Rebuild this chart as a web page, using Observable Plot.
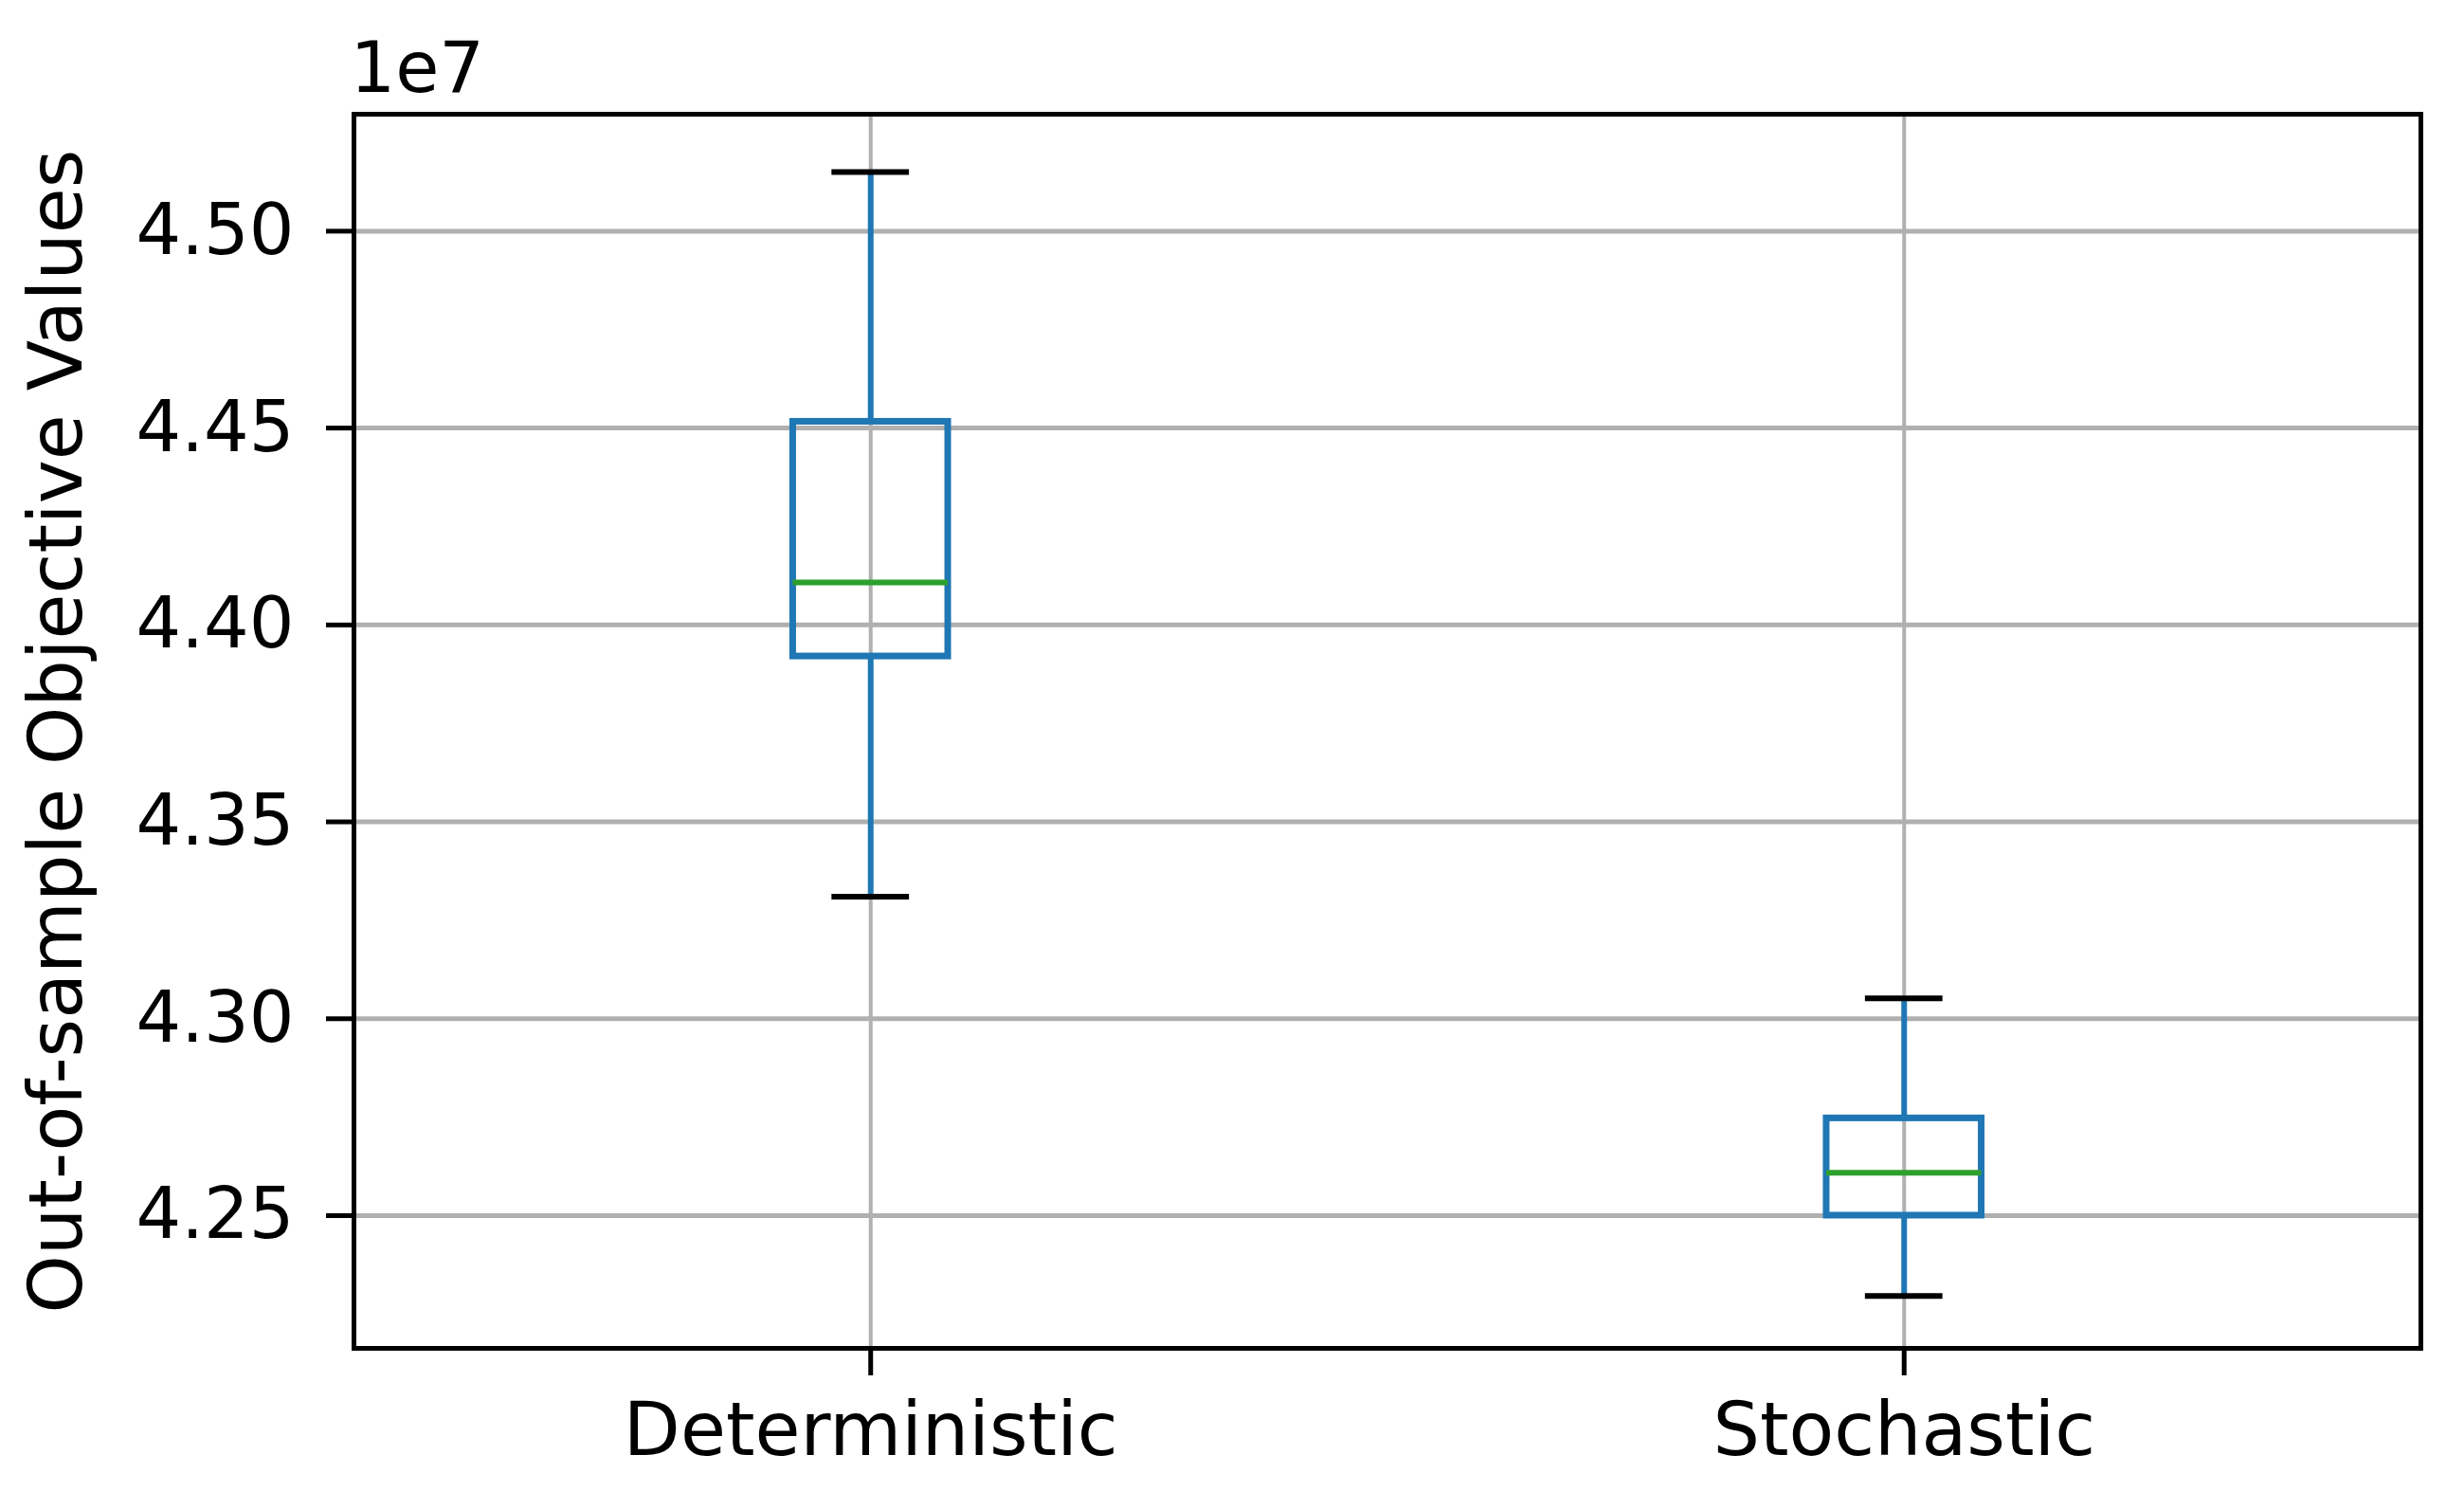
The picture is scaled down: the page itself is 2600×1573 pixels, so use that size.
<!DOCTYPE html>
<html>
<head>
<meta charset="utf-8">
<script src="https://cdn.jsdelivr.net/npm/d3@7"></script>
<script src="https://cdn.jsdelivr.net/npm/@observablehq/plot@0.6"></script>
<style>
  html, body { margin: 0; padding: 0; background: #ffffff; }
  #chart svg { display: block; }
</style>
</head>
<body>
<div id="chart"></div>
<script>
const categories = ["Deterministic", "Stochastic"];
const positions = [1, 2];
const whiskerLow = [43310000, 42296000];
const q1 = [43920000, 42500000];
const median = [44108000, 42609000];
const q3 = [44516000, 42747000];
const whiskerHigh = [45150000, 43052000];
const yTicks = [42500000, 43000000, 43500000, 44000000, 44500000, 45000000];
const yLabel = "Out-of-sample Objective Values";
const offsetText = "1e7";

const boxes = categories.map((c, i) => ({
  cat: c, pos: positions[i], lo: whiskerLow[i], q1: q1[i], med: median[i], q3: q3[i], hi: whiskerHigh[i]
}));
const halfBox = 0.075, halfCap = 0.0375;
const blue = "#1f77b4", green = "#2ca02c";
const font = "DejaVu Sans";

const chart = Plot.plot({
  width: 2600,
  height: 1573,
  marginLeft: 373,
  marginRight: 46,
  marginTop: 120,
  marginBottom: 151,
  style: { fontFamily: font, background: "#ffffff", color: "#000000" },
  x: { type: "linear", domain: [0.5, 2.5] },
  y: { type: "linear", domain: [42163000, 45297000] },
  marks: [
    Plot.gridY(yTicks, { stroke: "#b0b0b0", strokeOpacity: 1, strokeWidth: 5 }),
    Plot.gridX(positions, { stroke: "#b0b0b0", strokeOpacity: 1, strokeWidth: 4 }),
    // whiskers
    Plot.ruleX(boxes, { x: "pos", y1: "q3", y2: "hi", stroke: blue, strokeWidth: 6 }),
    Plot.ruleX(boxes, { x: "pos", y1: "lo", y2: "q1", stroke: blue, strokeWidth: 6 }),
    // caps
    Plot.ruleY(boxes, { y: "hi", x1: d => d.pos - halfCap, x2: d => d.pos + halfCap, stroke: "#000000", strokeWidth: 6 }),
    Plot.ruleY(boxes, { y: "lo", x1: d => d.pos - halfCap, x2: d => d.pos + halfCap, stroke: "#000000", strokeWidth: 6 }),
    // boxes
    Plot.rect(boxes, { x1: d => d.pos - halfBox, x2: d => d.pos + halfBox, y1: "q1", y2: "q3", fill: "none", stroke: blue, strokeWidth: 7 }),
    // medians
    Plot.ruleY(boxes, { y: "med", x1: d => d.pos - halfBox, x2: d => d.pos + halfBox, stroke: green, strokeWidth: 6 }),
    Plot.frame({ stroke: "#000000", strokeWidth: 5 }),
    Plot.axisY({
      ticks: yTicks, tickFormat: d => (d / 1e7).toFixed(2),
      tickSize: 29, tickPadding: 34, fontSize: 75, strokeWidth: 5, label: null, fill: "#000000"
    }),
    Plot.axisX({
      ticks: positions, tickFormat: d => categories[positions.indexOf(d)],
      tickSize: 29, tickPadding: 28, fontSize: 78, strokeWidth: 5, label: null, fill: "#000000"
    }),
    Plot.text([offsetText], {
      text: d => d, frameAnchor: "top-left", textAnchor: "start", lineAnchor: "bottom",
      dy: -24, dx: -4, fontSize: 75, fill: "#000000"
    }),
    Plot.text([yLabel], {
      text: d => d, frameAnchor: "left", rotate: -90, textAnchor: "middle", lineAnchor: "middle",
      dx: -312, dy: 0, fontSize: 78, fill: "#000000"
    })
  ]
});
document.getElementById("chart").appendChild(chart);
</script>
</body>
</html>
